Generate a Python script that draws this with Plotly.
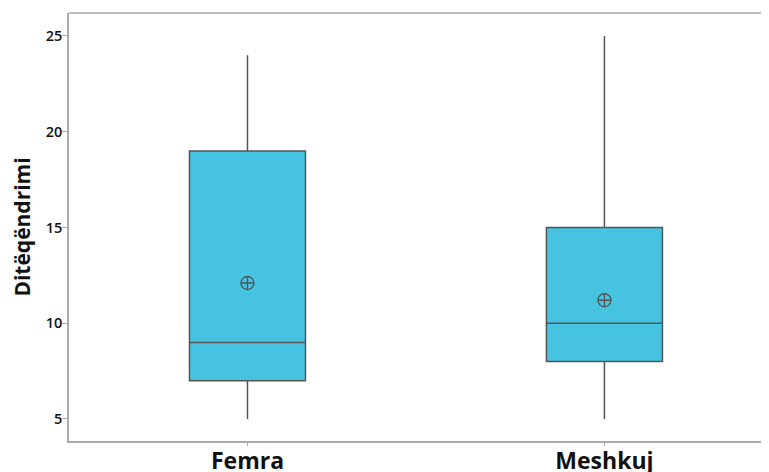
import plotly.graph_objects as go

categories = ["Femra", "Meshkuj"]
lower_whisker = [5, 5]
q1_values = [7, 8]
medians = [9, 10]
q3_values = [19, 15]
upper_whisker = [24, 25]
means = [12.1, 11.2]
y_ticks = [5, 10, 15, 20, 25]

fig = go.Figure()
fig.add_trace(go.Box(
    x=categories,
    q1=q1_values, median=medians, q3=q3_values,
    lowerfence=lower_whisker, upperfence=upper_whisker,
    fillcolor="#45C3E0",
    line=dict(color="#555555", width=1.5),
    whiskerwidth=0,
    width=0.325,
    boxpoints=False,
    showlegend=False,
    hoverinfo="skip",
))
fig.add_trace(go.Scatter(
    x=categories, y=means, mode="markers",
    marker=dict(symbol="circle-cross-open", size=13, color="#555555", line=dict(width=1.3)),
    showlegend=False,
))

# page body adds an 8px margin, so the figure is shrunk to fit the 769x472 window
fig.update_layout(
    width=761, height=464,
    margin=dict(l=61, r=0, t=5, b=31),
    paper_bgcolor="white", plot_bgcolor="white",
    font=dict(family="Open Sans", color="#111111"),
)
fig.update_xaxes(
    range=[-0.5, 1.461], showgrid=False, zeroline=False, automargin=False,
    showline=True, linecolor="#aaaaaa", linewidth=1.5, mirror=False,
    ticks="outside", ticklen=3, tickcolor="#aaaaaa", ticklabelstandoff=-4,
    tickfont=dict(size=23, family="Open Sans", color="#111111", weight="bold"),
)
fig.update_yaxes(
    range=[3.85, 26.2], tickvals=y_ticks, showgrid=False, zeroline=False, automargin=False,
    showline=True, linecolor="#aaaaaa", linewidth=1.5,
    ticks="outside", ticklen=5, tickcolor="#aaaaaa", ticklabelstandoff=-3,
    tickfont=dict(size=14.5, family="Open Sans", color="#111111", weight=600),
    title=dict(text="Ditëqëndrimi", font=dict(size=21, family="Open Sans", color="#111111", weight="bold"), standoff=14),
)
fig.add_shape(type="line", xref="paper", yref="paper", x0=0, x1=1, y0=1, y1=1,
              line=dict(color="#aaaaaa", width=1.5))

fig.write_html("out.html")
